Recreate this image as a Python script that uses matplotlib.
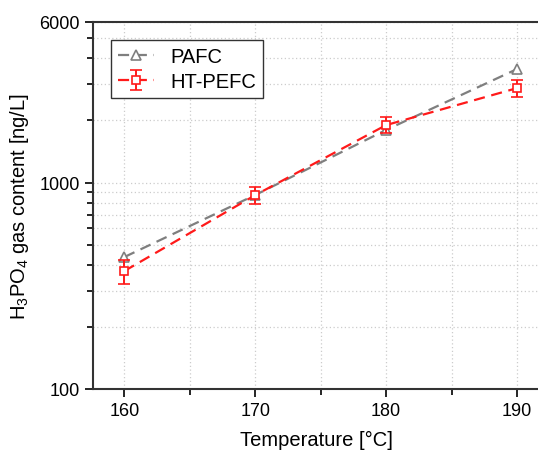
import numpy as np
import matplotlib.pyplot as plt
from matplotlib.ticker import LogLocator, NullFormatter, FixedLocator

plt.rcParams['font.family'] = ['Liberation Sans', 'DejaVu Sans']
plt.rcParams['mathtext.fontset'] = 'custom'
plt.rcParams['mathtext.rm'] = 'Liberation Sans'
plt.rcParams['mathtext.it'] = 'Liberation Sans:italic'

temp = [160, 170, 180, 190]
pafc = [436, 871, 1800, 3550]
htpefc = [373, 870, 1900, 2870]
htpefc_err = [50, 80, 170, 260]

fig = plt.figure(figsize=(5.38, 4.52), dpi=100)
ax = fig.add_axes([93/538, 62/452, 447.6/538, 367/452])

ax.plot(temp, pafc, ls=(0, (5, 3)), color="#7f7f7f", lw=1.6, marker="^",
        ms=7, mfc="white", mec="#7f7f7f", mew=1.2, label="PAFC", zorder=3)
ax.errorbar(temp, htpefc, yerr=htpefc_err, ls=(0, (5, 3)), color="#ff1a1a",
            lw=1.6, marker="s", ms=6, mfc="white", mec="#ff1a1a", mew=1.2,
            ecolor="#ff1a1a", elinewidth=1.4, capsize=4, capthick=1.4,
            label="HT-PEFC", zorder=4)

ax.set_yscale("log")
ax.set_ylim(100, 6000)
ax.set_xlim(157.6, 191.8)
ax.set_yticks([100, 1000, 6000])
ax.set_yticklabels(["100", "1000", "6000"])
ax.yaxis.set_minor_locator(LogLocator(base=10, subs=np.arange(2, 10)))
ax.yaxis.set_minor_formatter(NullFormatter())
ax.set_xticks([160, 170, 180, 190])
ax.xaxis.set_minor_locator(FixedLocator([165, 175, 185]))

ax.grid(True, which="both", ls=(0, (1, 2)), color="#cccccc", lw=0.9)
ax.tick_params(which="major", length=6, width=1.2, labelsize=13, direction="out")
ax.tick_params(which="minor", length=4, width=1.2, direction="out")
for s in ax.spines.values():
    s.set_linewidth(1.5)
    s.set_color("#333333")

ax.set_xlabel("Temperature [°C]", fontsize=14.5, labelpad=8)
ax.set_ylabel("H$_3$PO$_4$ gas content [ng/L]", fontsize=14.5, labelpad=6)

leg = ax.legend(loc="upper left", fontsize=14.5, fancybox=False, edgecolor="#333333",
                framealpha=1, handlelength=1.8, borderaxespad=0.9,
                handletextpad=0.8, borderpad=0.35, labelspacing=0.3)
leg.get_frame().set_linewidth(1.0)

fig.savefig("out.png", dpi=100)
